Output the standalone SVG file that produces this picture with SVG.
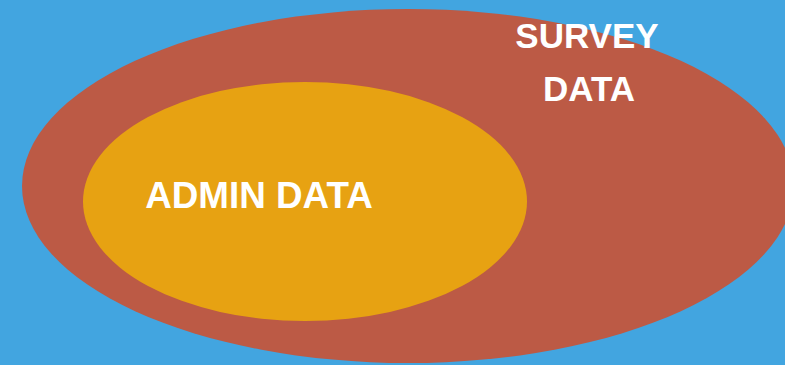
<svg xmlns="http://www.w3.org/2000/svg" width="785" height="365" viewBox="0 0 785 365">
<style>
.lbl{font-family:"Liberation Sans",Arial,sans-serif;font-weight:bold;fill:#FFFFFF;text-anchor:middle}
</style>
<rect x="0" y="0" width="785" height="365" fill="#42A5E0"/>
<g id="survey">
<ellipse cx="408" cy="186" rx="386" ry="177" fill="#BC5A45"/>
<text class="lbl" x="587" y="48" font-size="35">SURVEY</text>
<text class="lbl" x="589" y="101" font-size="35">DATA</text>
</g>
<g id="admin">
<ellipse cx="305" cy="201.5" rx="222" ry="119.5" fill="#E7A212"/>
<text class="lbl" x="259" y="208" font-size="36.8">ADMIN DATA</text>
</g>
<g id="connectors"/>
</svg>
